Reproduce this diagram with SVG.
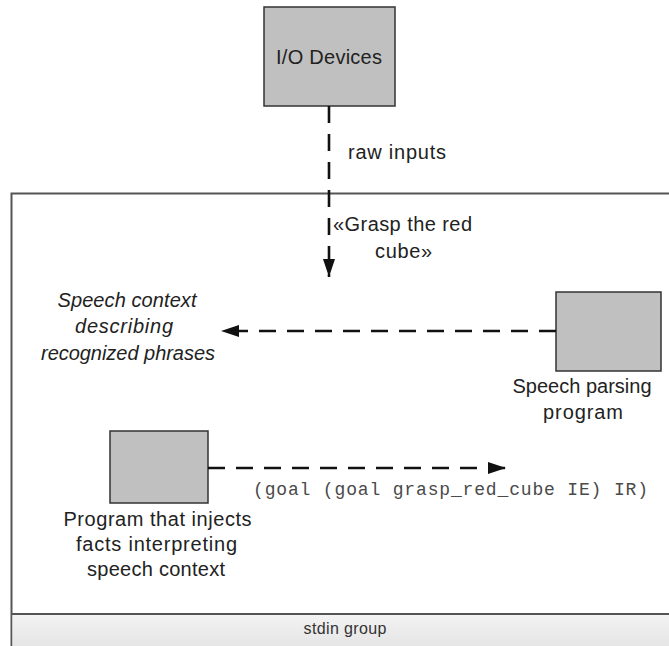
<svg xmlns="http://www.w3.org/2000/svg" width="669" height="646" viewBox="0 0 669 646">
  <style>
    .box { fill: #c0c0c0; stroke: #333333; stroke-width: 1.5; }
    .label { font-family: "Liberation Sans", Arial, sans-serif; font-size: 20px; fill: #222222; text-anchor: middle; }
    .italic { font-style: italic; }
    .code { font-family: "Liberation Mono", "Courier New", monospace; font-size: 18px; fill: #4a4a4a; }
    .flow { fill: none; stroke: #111111; stroke-width: 2.6; stroke-dasharray: 17 11; }
    .frame { fill: #ffffff; stroke: #555555; stroke-width: 2; }
    .band-title { font-family: "Liberation Sans", Arial, sans-serif; font-size: 16px; fill: #333333; text-anchor: middle; }
  </style>
  <defs>
    <marker id="head" markerUnits="userSpaceOnUse" markerWidth="20" markerHeight="14" refX="18" refY="6" orient="auto">
      <path d="M0,0 L18,6 L0,12 Z" fill="#111111"/>
    </marker>
    <linearGradient id="bandFill" x1="0" y1="0" x2="0" y2="1">
      <stop offset="0" stop-color="#f3f3f3"/>
      <stop offset="1" stop-color="#e2e2e2"/>
    </linearGradient>
  </defs>

  <rect width="669" height="646" fill="#ffffff"/>

  <!-- stdin group container with its title band -->
  <g id="stdin-group">
    <rect class="frame" x="11.5" y="193.5" width="680" height="470"/>
    <rect x="12.5" y="614" width="670" height="40" fill="url(#bandFill)"/>
    <line x1="11.5" y1="614" x2="669" y2="614" stroke="#555555" stroke-width="2"/>
    <text class="band-title" x="345" y="634" textLength="83">stdin group</text>
  </g>

  <!-- nodes -->
  <g id="io-devices">
    <rect class="box" x="264" y="7" width="131" height="99"/>
    <text class="label" x="329" y="64" textLength="106">I/O Devices</text>
  </g>

  <g id="speech-context">
    <text class="label italic" x="127" y="307" textLength="139">Speech context</text>
    <text class="label italic" x="124" y="333" textLength="98">describing</text>
    <text class="label italic" x="128" y="360" textLength="174">recognized phrases</text>
  </g>

  <g id="speech-parser">
    <rect class="box" x="556" y="292" width="105" height="79"/>
    <text class="label" x="582" y="393" textLength="139">Speech parsing</text>
    <text class="label" x="583" y="419" textLength="80">program</text>
  </g>

  <g id="fact-injector">
    <rect class="box" x="110" y="431" width="98" height="72"/>
    <text class="label" x="157.5" y="526" textLength="188">Program that injects</text>
    <text class="label" x="156.5" y="551" textLength="161">facts interpreting</text>
    <text class="label" x="156" y="576" textLength="138">speech context</text>
  </g>

  <!-- connectors -->
  <g id="connectors">
    <line class="flow" x1="329" y1="106" x2="329" y2="277" marker-end="url(#head)"/>
    <text class="label" x="348" y="159" text-anchor="start" style="text-anchor:start" textLength="98">raw inputs</text>
    <text class="label" x="402.5" y="231" textLength="139">«Grasp the red</text>
    <text class="label" x="403.5" y="258" textLength="57">cube»</text>

    <line class="flow" x1="556" y1="331" x2="221" y2="331" marker-end="url(#head)"/>

    <line class="flow" x1="208" y1="468" x2="506" y2="468" marker-end="url(#head)"/>
    <text class="code" x="253" y="495" textLength="395">(goal (goal grasp_red_cube IE) IR)</text>
  </g>
</svg>
